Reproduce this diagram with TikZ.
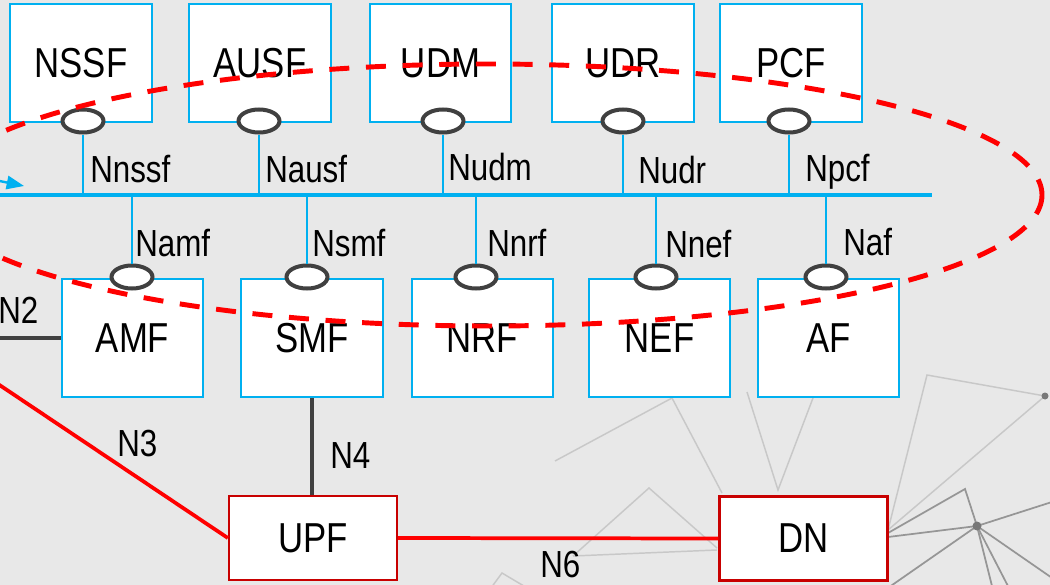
\documentclass[tikz,border=0pt]{standalone}
\usepackage{fontspec}
\setmainfont{Liberation Sans}[FakeStretch=0.83]
\usetikzlibrary{arrows.meta,shapes.geometric}

\definecolor{nfblue}{RGB}{0,176,240}
\definecolor{upred}{RGB}{200,0,0}
\definecolor{linkred}{RGB}{255,0,0}
\definecolor{ifgray}{RGB}{64,64,64}
\definecolor{bggray}{RGB}{232,232,232}
\definecolor{netlight}{RGB}{200,200,200}
\definecolor{netdark}{RGB}{150,150,150}

\tikzset{
  boxfont/.style={font=\fontsize{31.4}{36}\selectfont},
  nfbox/.style={draw=nfblue, line width=1.5pt, fill=white, minimum width=106pt,
    minimum height=88.5pt, inner sep=0pt, boxfont},
  upbox/.style={draw=upred, line width=1.7pt, fill=white, minimum width=126pt,
    minimum height=63pt, inner sep=0pt, boxfont},
  svc/.style={ellipse, draw=ifgray, line width=3pt, fill=white, minimum width=30.75pt,
    minimum height=17.25pt, inner sep=0pt},
  bus/.style={draw=nfblue, line width=3.5pt},
  stub/.style={draw=nfblue, line width=1.5pt},
  iflabel/.style={anchor=base west, inner sep=0pt, font=\fontsize{28.3}{32}\selectfont},
  cplink/.style={draw=ifgray, line width=2.5pt},
  uplink/.style={draw=linkred, line width=2.8pt},
  sbaring/.style={draw=linkred, line width=3.7pt, dash pattern=on 15pt off 12.5pt},
  netline/.style={draw=netlight, line width=1.1pt},
  netbold/.style={draw=netdark, line width=1.3pt},
}

\begin{document}
\begin{tikzpicture}[x=0.75pt,y=-0.75pt]
  % canvas
  \fill[bggray] (0,0) rectangle (1050,585);
  \useasboundingbox (0,0) rectangle (1050,585);
  \clip (0,0) rectangle (1050,585);

  % faint network pattern behind the diagram
  \draw[netline] (555,461) -- (672,398) -- (722,493);
  \draw[netline] (747,392) -- (778,490) -- (813,398);
  \draw[netline] (573,556) -- (649,488) -- (717,548);
  \draw[netline] (573,556) -- (717,550);
  \draw[netline] (488,592) -- (502,573) -- (534,592);
  \draw[netline] (888,530) -- (927,375) -- (1045,396) -- cycle;
  \draw[netbold] (888,533) -- (965,489) -- (977,526);
  \draw[netbold] (888,537) -- (977,526);
  \draw[netbold] (977,526) -- (1055,501);
  \draw[netbold] (977,526) -- (885,590);
  \draw[netbold] (977,526) -- (993,590);
  \draw[netbold] (977,526) -- (1010,590);
  \draw[netbold] (977,526) -- (1055,580);
  \fill[netdark!80!black] (1045,396) circle [radius=3.5];
  \fill[netdark!80!black] (977,526) circle [radius=4.5];

  % service-based bus
  \coordinate (busL) at (-5,195);
  \coordinate (busR) at (932,195);
  \draw[bus] (busL) -- (busR);
  \coordinate (arrTail) at (-25,176);
  \coordinate (arrTip) at (24,186);
  \draw[draw=nfblue, line width=1.8pt, -{Triangle[length=13pt,width=10pt]}] (arrTail) -- (arrTip);

  % upper network functions
  \node[nfbox] (NSSF) at (81,63) {NSSF};
  \node[nfbox] (AUSF) at (260,63) {AUSF};
  \node[nfbox] (UDM) at (440.5,63) {UDM};
  \node[nfbox] (UDR) at (623,63) {UDR};
  \node[nfbox] (PCF) at (791,63) {PCF};

  % lower network functions
  \node[nfbox] (AMF) at (132.5,338) {AMF};
  \node[nfbox] (SMF) at (312,338) {SMF};
  \node[nfbox] (NRF) at (482.5,338) {NRF};
  \node[nfbox] (NEF) at (659.5,338) {NEF};
  \node[nfbox] (AF) at (828.5,338) {AF};

  % user plane
  \node[upbox] (UPF) at (313,538) {UPF};
  \node[upbox] (DN) at (803.5,538.5) {DN};

  % service interface stubs (upper row)
  \node[svc] (sNSSF) at (83,121) {};
  \node[svc] (sAUSF) at (259,121) {};
  \node[svc] (sUDM) at (443,121) {};
  \node[svc] (sUDR) at (623,121) {};
  \node[svc] (sPCF) at (789,121) {};
  \foreach \s in {sNSSF,sAUSF,sUDM,sUDR,sPCF}
    \draw[stub] (\s.south) -- (\s.south |- busL);

  % service interface stubs (lower row)
  \node[svc] (sAMF) at (132,277) {};
  \node[svc] (sSMF) at (307,277) {};
  \node[svc] (sNRF) at (476,277) {};
  \node[svc] (sNEF) at (656,277) {};
  \node[svc] (sAF) at (826,277) {};
  \foreach \s in {sAMF,sSMF,sNRF,sNEF,sAF}
    \draw[stub] (\s.north) -- (\s.north |- busL);

  % service interface names
  \node[iflabel] (lNnssf) at (90,182) {Nnssf};
  \node[iflabel] (lNausf) at (265,182) {Nausf};
  \node[iflabel] (lNudm) at (448,180) {Nudm};
  \node[iflabel] (lNudr) at (638,183) {Nudr};
  \node[iflabel] (lNpcf) at (805,181) {Npcf};
  \node[iflabel] (lNamf) at (135,256) {Namf};
  \node[iflabel] (lNsmf) at (312,256) {Nsmf};
  \node[iflabel] (lNnrf) at (487,256) {Nnrf};
  \node[iflabel] (lNnef) at (665,257) {Nnef};
  \node[iflabel] (lNaf) at (843,255) {Naf};

  % reference points
  \coordinate (n2end) at (-5,338);
  \coordinate (n3end) at (-5,382);
  \draw[cplink] (n2end) -- (AMF.west);
  \draw[uplink] (n3end) -- (UPF.west);
  \draw[cplink] (SMF.south) -- (SMF.south |- UPF.north);
  \draw[uplink] (UPF.east) -- (DN.west);
  \node[iflabel] (lN2) at (-2,323) {N2};
  \node[iflabel] (lN3) at (117,456) {N3};
  \node[iflabel] (lN4) at (330,468) {N4};
  \node[iflabel] (lN6) at (540,577) {N6};

  % control plane grouping
  \draw[sbaring] (488,195) ellipse [x radius=554, y radius=131];
\end{tikzpicture}
\end{document}
